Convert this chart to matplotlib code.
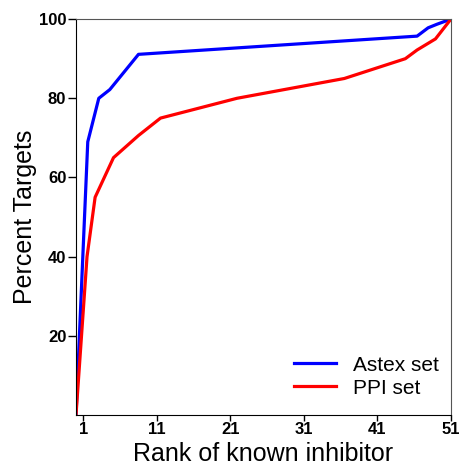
import numpy as np
import matplotlib
matplotlib.use('Agg')
import matplotlib.pyplot as plt

plt.rcParams['font.family'] = ['Liberation Sans', 'DejaVu Sans']

# ranks / percent of targets
astex_rank = [0, 1.6, 3.1, 4.6, 8.5, 46.4, 47.9, 49.1, 51]
astex_pct = [0, 69, 80, 82.2, 91.1, 95.7, 97.8, 98.7, 100]
ppi_rank = [0, 1.5, 2.6, 5.1, 8.5, 11.5, 21.9, 36.5, 44.8, 46.4, 48.9, 51]
ppi_pct = [0, 40, 55, 65, 70.6, 75, 80, 85, 90, 92.2, 95, 100]

xticks = [1, 11, 21, 31, 41, 51]
yticks = [20, 40, 60, 80, 100]

fig = plt.figure(figsize=(4.62, 4.66), dpi=100)
ax = fig.add_axes([0.1645, 0.1094, 0.8115, 0.8496])

ax.plot(astex_rank, astex_pct, color='#0000ff', lw=2.3, label='Astex set')
ax.plot(ppi_rank, ppi_pct, color='#ff0000', lw=2.3, label='PPI set')

ax.set_xlim(0, 51)
ax.set_ylim(0, 100)
ax.set_xticks(xticks)
ax.set_yticks(yticks)
for lab in ax.get_xticklabels() + ax.get_yticklabels():
    lab.set_fontweight('bold')
    lab.set_fontsize(12)
ax.tick_params(axis='y', direction='out', length=6, width=1, pad=1)
ax.tick_params(axis='x', direction='out', length=4, width=1, pad=1)

for s in ['left', 'bottom']:
    ax.spines[s].set_color('black')
for s in ['top', 'right']:
    ax.spines[s].set_color('#555555')

ax.set_xlabel('Rank of known inhibitor', fontsize=18, labelpad=3.5)
ax.set_ylabel('Percent Targets', fontsize=18, labelpad=1)

ax.legend(loc='lower right', bbox_to_anchor=(1.0, 0.012), frameon=False,
          fontsize=15, handlelength=2.0, borderaxespad=0.2, labelspacing=0.2)

fig.savefig('out.png', dpi=100)
